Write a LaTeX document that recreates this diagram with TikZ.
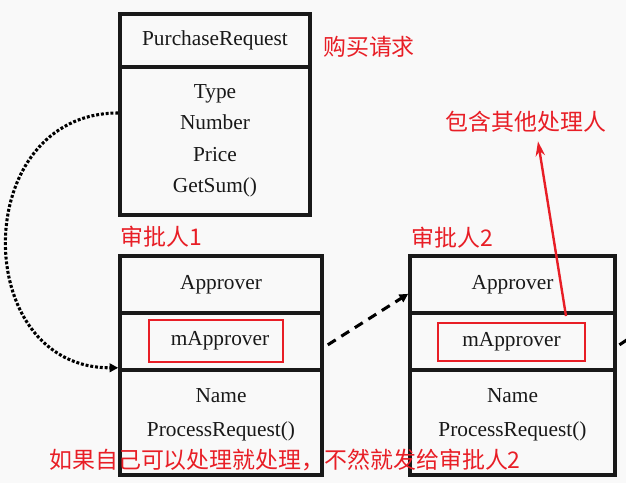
\documentclass[tikz,border=0pt]{standalone}
\usepackage{fontspec}
\setmainfont{Liberation Serif}
\newfontfamily\cjk{Noto Sans CJK SC}
\usetikzlibrary{arrows.meta}
\definecolor{notered}{RGB}{232,30,38}
\definecolor{paper}{RGB}{249,249,249}

\begin{document}
\begin{tikzpicture}[x=0.75pt,y=-0.75pt,
  compart/.style={draw=black!90,line width=2.7pt,inner sep=0pt,text=black!90,
    font=\fontsize{16}{23.6}\selectfont,align=center},
  member/.style={text=black!90,font=\fontsize{16}{23.6}\selectfont},
  linkbox/.style={draw=notered,line width=2pt,inner sep=0pt,text=black!90,
    font=\fontsize{16}{19}\selectfont},
  note/.style={text=notered,font=\cjk\fontsize{17.2}{20}\selectfont},
  chain/.style={line width=2.3pt,-{Triangle[length=6.5pt,width=6.5pt]}}]
\useasboundingbox (0,0) rectangle (626,483);
\fill[paper] (0,0) rectangle (626,483);

% Request class
\node[compart,minimum width=142.5pt,minimum height=39.75pt] (req-title) at (215,40.5) {PurchaseRequest};
\node[compart,minimum width=142.5pt,minimum height=111pt] (req-body) at (215,141)
  {Type\\Number\\Price\\GetSum()};

% First approver
\node[compart,minimum width=151.5pt,minimum height=42.75pt] (ap1-head) at (221,284.5) {Approver};
\node[compart,minimum width=151.5pt,minimum height=42.75pt] (ap1-link) at (221,341.5) {};
\node[compart,minimum width=151.5pt,minimum height=78.75pt] (ap1-ops) at (221,422.5) {};
\node[linkbox,minimum width=100.5pt,minimum height=31.5pt] (ap1-ref) at (216,341) {\hspace{6pt}mApprover};
\node[member] (ap1-field) at (221,396) {Name};
\node[member] (ap1-method) at (221,431) {ProcessRequest()};

% Second approver
\node[compart,minimum width=153.75pt,minimum height=42.75pt] (ap2-head) at (512.5,284.5) {Approver};
\node[compart,minimum width=153.75pt,minimum height=42.75pt] (ap2-link) at (512.5,341.5) {};
\node[compart,minimum width=153.75pt,minimum height=78.75pt] (ap2-ops) at (512.5,422.5) {};
\node[linkbox,minimum width=110.25pt,minimum height=28.5pt] (ap2-ref) at (511.5,342) {mApprover};
\node[member] (ap2-field) at (512.5,396) {Name};
\node[member] (ap2-method) at (512.5,431) {ProcessRequest()};

% Notes
\node[note] (req-note) at (369,47) {购买请求};
\node[note] (ap1-note) at (161,237) {审批人1};
\node[note] (ap2-note) at (452,238) {审批人2};
\node[note] (others) at (526,122) {包含其他处理人};
\node[note] (rule-note) at (285,460) {如果自己可以处理就处理，不然就发给审批人2};

% Links
\draw[chain,dash pattern=on 2.2pt off 1.4pt] ([yshift=21pt]req-body.west)
  to[out=180,in=180,looseness=1.5] ([yshift=3pt]ap1-link.south west);
\draw[chain,dash pattern=on 7pt off 5pt] ([shift={(3pt,-2.5pt)}]ap1-link.east) -- ([yshift=-7pt]ap2-head.west);
\coordinate (ap3-in) at (640,331);
\draw[line width=2.3pt,dash pattern=on 7pt off 5pt] ([shift={(2pt,-2.5pt)}]ap2-link.east) -- (ap3-in);
\coordinate (ap2-out) at (566,316);
\draw[notered,line width=1.8pt,-{Stealth[length=11pt,width=7pt]}] (ap2-out) -- ([xshift=9pt,yshift=-3pt]others.south);
\end{tikzpicture}
\end{document}
